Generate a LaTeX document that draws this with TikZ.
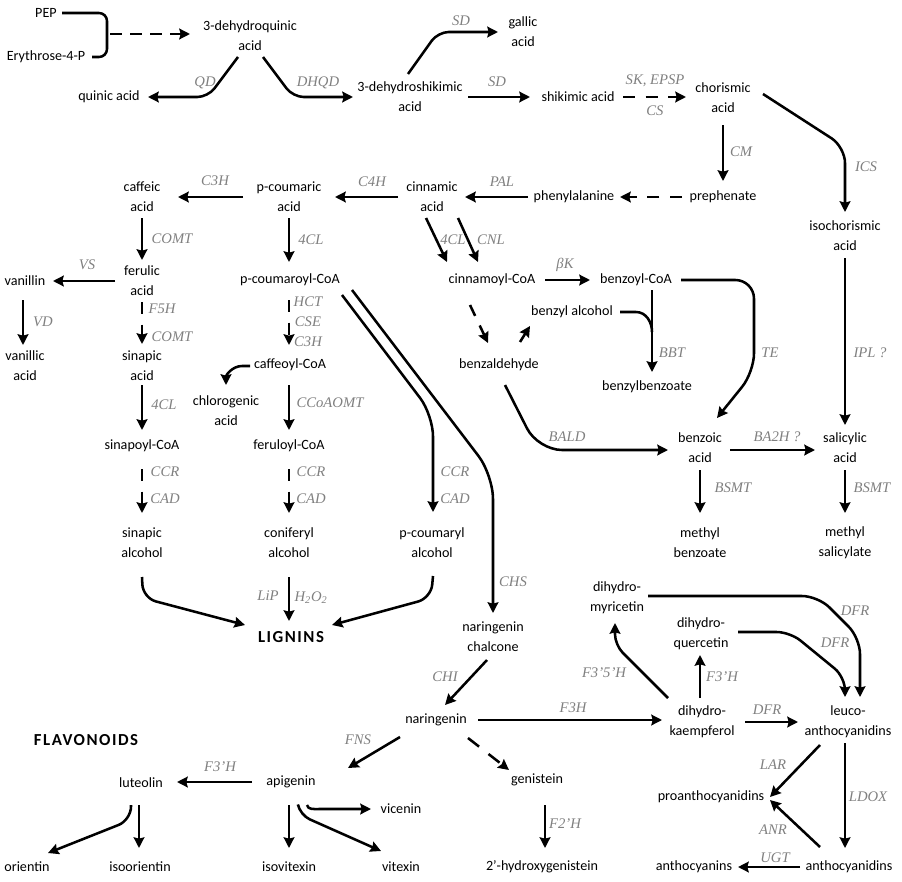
\documentclass[tikz,border=0pt]{standalone}
\usepackage{fontspec}
\setmainfont{Carlito}
\newfontfamily\enzfont{Liberation Serif}
\newfontfamily\headfont[LetterSpace=9]{Carlito}
\usetikzlibrary{arrows.meta,calc}
\definecolor{enzgrey}{HTML}{808080}
\begin{document}
\begin{tikzpicture}[x=0.75pt,y=-0.75pt,
  every node/.style={font=\fontsize{10.6pt}{15pt}\selectfont, align=center, inner sep=1pt},
  enz/.style={font=\enzfont\itshape\fontsize{11pt}{13pt}\selectfont, text=enzgrey, inner sep=0pt},
  hd/.style={font=\headfont\bfseries\fontsize{12.6pt}{15pt}\selectfont},
  ln/.style={line width=1.9pt},
  arr/.style={ln, -{Stealth[length=8pt,width=8pt,inset=1pt]}},
  dsh/.style={arr, dash pattern=on 9pt off 8pt},
]
\fill[white] (0,0) rectangle (902,881);
\useasboundingbox (0,0) rectangle (902,881);

% ---------- compounds ----------
\node (pep) at (46,13) {PEP};
\node (ery) at (46,57) {Erythrose-4-P};
\node (dhq) at (250,36) {3-dehydroquinic\\acid};
\node (quin) at (109,97) {quinic acid};
\node (dhs) at (410,97) {3-dehydroshikimic\\acid};
\node (gal) at (523,32) {gallic\\acid};
\node (shik) at (578,97) {shikimic acid};
\node (chor) at (723,98) {chorismic\\acid};
\node (preph) at (723,197) {prephenate};
\node (isoch) at (845,236) {isochorismic\\acid};
\node (phe) at (574,197) {phenylalanine};
\node (cin) at (432,197) {cinnamic\\acid};
\node (pcou) at (289,197) {p-coumaric\\acid};
\node (caf) at (142,197) {caffeic\\acid};
\node (fer) at (142,281) {ferulic\\acid};
\node (van) at (25,281) {vanillin};
\node (vana) at (25,366) {vanillic\\acid};
\node (sin) at (142,366) {sinapic\\acid};
\node (sinc) at (142,446) {sinapoyl-CoA};
\node (sinal) at (142,543) {sinapic\\alcohol};
\node (pcoa) at (290,280) {p-coumaroyl-CoA};
\node (cafc) at (290,365) {caffeoyl-CoA};
\node (chl) at (226,411) {chlorogenic\\acid};
\node (ferc) at (289,446) {feruloyl-CoA};
\node (conal) at (289,543) {coniferyl\\alcohol};
\node (pcal) at (432,543) {p-coumaryl\\alcohol};
\node[hd] (lig) at (291,637) {LIGNINS};
\node (cinc) at (492,280) {cinnamoyl-CoA};
\node (benzc) at (636,280) {benzoyl-CoA};
\node (balc) at (572,312) {benzyl alcohol};
\node (bbz) at (647,387) {benzylbenzoate};
\node (bald) at (499,365) {benzaldehyde};
\node (benz) at (700,448) {benzoic\\acid};
\node (sal) at (845,448) {salicylic\\acid};
\node (mbz) at (700,543) {methyl\\benzoate};
\node (msal) at (845,543) {methyl\\salicylate};
\node (narc) at (493,637) {naringenin\\chalcone};
\node (nar) at (436,720) {naringenin};
\node (api) at (291,782) {apigenin};
\node (lut) at (141,783) {luteolin};
\node (ori) at (27,867) {orientin};
\node (isoo) at (140,867) {isoorientin};
\node (isov) at (289,867) {isovitexin};
\node (vic) at (401,809) {vicenin};
\node (vit) at (401,867) {vitexin};
\node (gen) at (537,780) {genistein};
\node (hgen) at (542,867) {2’-hydroxygenistein};
\node[hd] (flav) at (86,740) {FLAVONOIDS};
\node (dhm) at (617,598) {dihydro-\\myricetin};
\node (dhqc) at (701,634) {dihydro-\\quercetin};
\node (dhk) at (702,722) {dihydro-\\kaempferol};
\node (leuco) at (848,722) {leuco-\\anthocyanidins};
\node (pro) at (711,797) {proanthocyanidins};
\node (anth) at (849,867) {anthocyanidins};
\node (anc) at (694,867) {anthocyanins};

% ---------- connectors ----------
\coordinate (br) at ($(pep)+(61,21)$);
\draw[ln, rounded corners=6pt] ($(pep)+(16,0)$) -| (br) |- ($(ery)+(46,0)$);
\draw[dsh, dash pattern=on 9pt off 6pt] ($(br)+(3,0)$) -- ($(dhq)+(-60,-2)$);
\draw[arr, rounded corners=8pt] ($(dhq)+(-12,21)$) -- ($(quin)+(99,0)$) -- ($(quin)+(39,0)$);
\draw[arr, rounded corners=8pt] ($(dhq)+(13,21)$) -- ($(dhs)+(-117,0)$) -- ($(dhs)+(-57,0)$);
\draw[arr, rounded corners=8pt] ($(dhs)+(-2,-23)$) -- ($(gal)+(-85,0)$) -- ($(gal)+(-25,0)$);
\draw[arr] ($(dhs)+(58,0)$) -- ($(shik)+(-48,0)$);
\draw[dsh] ($(shik)+(45,0)$) -- ($(chor)+(-37,-1)$);
\draw[arr] ($(chor)+(0,27)$) -- ($(preph)+(0,-16)$);
\draw[arr, rounded corners=12pt] ($(chor)+(40,-4)$) -- ($(isoch)+(0,-89)$) -- ($(isoch)+(0,-24)$);
\draw[dsh] ($(preph)+(-41,0)$) -- ($(phe)+(46,0)$);
\draw[arr] ($(phe)+(-46,0)$) -- ($(cin)+(33,0)$);
\draw[arr] ($(cin)+(-34,0)$) -- ($(pcou)+(46,0)$);
\draw[arr] ($(pcou)+(-46,0)$) -- ($(caf)+(36,0)$);
\draw[arr] ($(caf)+(0,21)$) -- ($(fer)+(0,-21)$);
\draw[arr] ($(fer)+(-27,0)$) -- ($(van)+(28,0)$);
\draw[arr] ($(van)+(-2,19)$) -- ($(vana)+(-2,-21)$);
\draw[dsh] ($(fer)+(0,21)$) -- ($(sin)+(0,-22)$);
\draw[arr] ($(sin)+(0,19)$) -- ($(sinc)+(0,-16)$);
\draw[dsh] ($(sinc)+(0,23)$) -- ($(sinal)+(0,-30)$);
\draw[arr, rounded corners=10pt] ($(sinal)+(0,34)$) -- ($(sinal)+(1,55)$) -- ($(lig)+(-46,-12)$);
\draw[arr] ($(conal)+(0,34)$) -- ($(lig)+(-2,-16)$);
\draw[arr, rounded corners=10pt] ($(pcal)+(1,33)$) -- ($(pcal)+(-1,55)$) -- ($(lig)+(41,-12)$);
\draw[arr] ($(pcou)+(0,21)$) -- ($(pcoa)+(-1,-18)$);
\draw[dsh] ($(pcoa)+(-1,20)$) -- ($(cafc)+(-1,-20)$);
\draw[arr] ($(cafc)+(-40,1)$) -- ++(-8,0) to[out=180,in=90] ($(chl)+(0,-26)$);
\draw[arr] ($(cafc)+(-1,20)$) -- ($(ferc)+(0,-16)$);
\draw[dsh] ($(ferc)+(0,23)$) -- ($(conal)+(0,-30)$);
\draw[arr, rounded corners=16pt] ($(pcoa)+(52,15)$) -- ($(pcal)+(1,-128)$) -- ($(pcal)+(1,-31)$);
\draw[arr, rounded corners=18pt] ($(pcoa)+(62,10)$) -- ($(narc)+(0,-162)$) -- ($(narc)+(0,-24)$);
\draw[arr] ($(narc)+(-6,23)$) -- ($(nar)+(9,-15)$);
\draw[arr] ($(nar)+(42,0)$) -- ($(dhk)+(-40,-2)$);
\draw[arr] ($(nar)+(-36,17)$) -- ($(api)+(57,-14)$);
\draw[dsh, dash pattern=on 10.5pt off 9pt] ($(nar)+(32,18)$) -- ($(gen)+(-28,-10)$);
\draw[arr] ($(gen)+(8,25)$) -- ($(hgen)+(3,-19)$);
\draw[arr] ($(api)+(-39,0)$) -- ($(lut)+(36,-1)$);
\draw[arr, rounded corners=10pt] ($(lut)+(-10,22)$) -- ($(lut)+(-10,37)$) -- ($(ori)+(21,-14)$);
\draw[arr] ($(lut)+(-2,22)$) -- ($(isoo)+(-1,-19)$);
\draw[arr] ($(api)+(-2,23)$) -- ($(isov)+(0,-19)$);
\draw[arr] ($(api)+(16,23)$) to[out=-80,in=180] ($(api)+(28,27)$) -- ($(vic)+(-30,0)$);
\draw[arr, rounded corners=8pt] ($(api)+(7,23)$) -- ($(api)+(9,33)$) -- ($(vit)+(-20,-16)$);
\draw[arr] ($(cin)+(-6,21)$) -- ($(cinc)+(-45,-18)$);
\draw[arr] ($(cin)+(26,21)$) -- ($(cinc)+(-14,-18)$);
\draw[arr] ($(cinc)+(53,0)$) -- ($(benzc)+(-46,0)$);
\draw[arr] ($(benzc)+(16,10)$) -- ($(bbz)+(5,-15)$);
\draw[ln] ($(balc)+(48,0)$) -- ($(balc)+(64,0)$) to[out=0,in=90] ($(balc)+(80,20)$);
\draw[arr, rounded corners=14pt] ($(benzc)+(45,0)$) -- ($(benzc)+(118,0)$) -- ($(benzc)+(118,92)$) -- ($(benz)+(17,-30)$);
\draw[dsh] ($(cinc)+(-22,25)$) -- ($(bald)+(-11,-22)$);
\draw[arr] ($(bald)+(21,-23)$) -- ($(balc)+(-42,14)$);
\draw[arr, rounded corners=18pt] ($(bald)+(6,20)$) -- ($(bald)+(39,85)$) -- ($(benz)+(-32,2)$);
\draw[arr] ($(benz)+(30,2)$) -- ($(sal)+(-30,2)$);
\draw[arr] ($(isoch)+(0,22)$) -- ($(sal)+(0,-23)$);
\draw[arr] ($(benz)+(0,22)$) -- ($(mbz)+(0,-30)$);
\draw[arr] ($(sal)+(0,22)$) -- ($(msal)+(0,-30)$);
\draw[arr] ($(dhk)+(-2,-24)$) -- ($(dhqc)+(-1,21)$);
\draw[arr, rounded corners=8pt] ($(dhk)+(-34,-24)$) -- ($(dhm)+(-2,47)$) -- ($(dhm)+(-2,25)$);
\draw[arr] ($(dhk)+(43,0)$) -- ($(leuco)+(-50,0)$);
\draw[arr, rounded corners=12pt] ($(dhm)+(31,-2)$) -- ($(dhm)+(201,-2)$) -- ($(leuco)+(12,-84)$) -- ($(leuco)+(12,-25)$);
\draw[arr, rounded corners=10pt] ($(dhqc)+(37,-2)$) -- ($(dhqc)+(89,-2)$) -- ($(leuco)+(-3,-45)$) -- ($(leuco)+(-3,-25)$);
\draw[arr] ($(leuco)+(-28,23)$) -- ($(pro)+(59,0)$);
\draw[arr] ($(leuco)+(-3,21)$) -- ($(anth)+(-4,-19)$);
\draw[arr] ($(anth)+(-29,-20)$) -- ($(pro)+(59,3)$);
\draw[arr] ($(anth)+(-49,0)$) -- ($(anc)+(44,0)$);

% ---------- enzyme labels ----------
\node[enz] (e1) at (205,83) {QD};
\node[enz] (e2) at (318,83) {DHQD};
\node[enz] (e3) at (461,21) {SD};
\node[enz] (e4) at (497,82) {SD};
\node[enz] (e5) at (655,81) {SK, EPSP};
\node[enz] (e6) at (655,111) {CS};
\node[enz] (e7) at (741,152) {CM};
\node[enz] (e8) at (866,167) {ICS};
\node[enz] (e9) at (502,182) {PAL};
\node[enz] (e10) at (372,182) {C4H};
\node[enz] (e11) at (215,181) {C3H};
\node[enz] (e12) at (172,239) {COMT};
\node[enz] (e13) at (87,265) {VS};
\node[enz] (e14) at (43,322) {VD};
\node[enz] (e15) at (162,309) {F5H};
\node[enz] (e16) at (172,337) {COMT};
\node[enz] (e17) at (164,405) {4CL};
\node[enz] (e18) at (165,472) {CCR};
\node[enz] (e19) at (165,499) {CAD};
\node[enz] (e20) at (311,240) {4CL};
\node[enz] (e21) at (308,302) {HCT};
\node[enz] (e22) at (308,322) {CSE};
\node[enz] (e23) at (308,342) {C3H};
\node[enz] (e24) at (330,403) {CCoAOMT};
\node[enz] (e25) at (311,472) {CCR};
\node[enz] (e26) at (311,499) {CAD};
\node[enz] (e27) at (455,472) {CCR};
\node[enz] (e28) at (455,499) {CAD};
\node[enz] (e29) at (268,596) {LiP};
\node[enz] (e30) at (311,598) {H\textsubscript{2}O\textsubscript{2}};
\node[enz] (e31) at (513,582) {CHS};
\node[enz] (e32) at (453,240) {4CL};
\node[enz] (e33) at (491,240) {CNL};
\node[enz] (e34) at (565,265) {βK};
\node[enz] (e35) at (672,353) {BBT};
\node[enz] (e36) at (770,353) {TE};
\node[enz] (e37) at (870,353) {IPL ?};
\node[enz] (e38) at (567,437) {BALD};
\node[enz] (e39) at (777,437) {BA2H ?};
\node[enz] (e40) at (733,488) {BSMT};
\node[enz] (e41) at (872,488) {BSMT};
\node[enz] (e42) at (445,677) {CHI};
\node[enz] (e43) at (573,708) {F3H};
\node[enz] (e44) at (358,740) {FNS};
\node[enz] (e45) at (565,824) {F2’H};
\node[enz] (e46) at (220,767) {F3’H};
\node[enz] (e47) at (722,677) {F3’H};
\node[enz] (e48) at (604,673) {F3’5’H};
\node[enz] (e49) at (767,710) {DFR};
\node[enz] (e50) at (855,611) {DFR};
\node[enz] (e51) at (835,643) {DFR};
\node[enz] (e52) at (773,765) {LAR};
\node[enz] (e53) at (773,830) {ANR};
\node[enz] (e54) at (868,797) {LDOX};
\node[enz] (e55) at (775,858) {UGT};
\end{tikzpicture}
\end{document}
